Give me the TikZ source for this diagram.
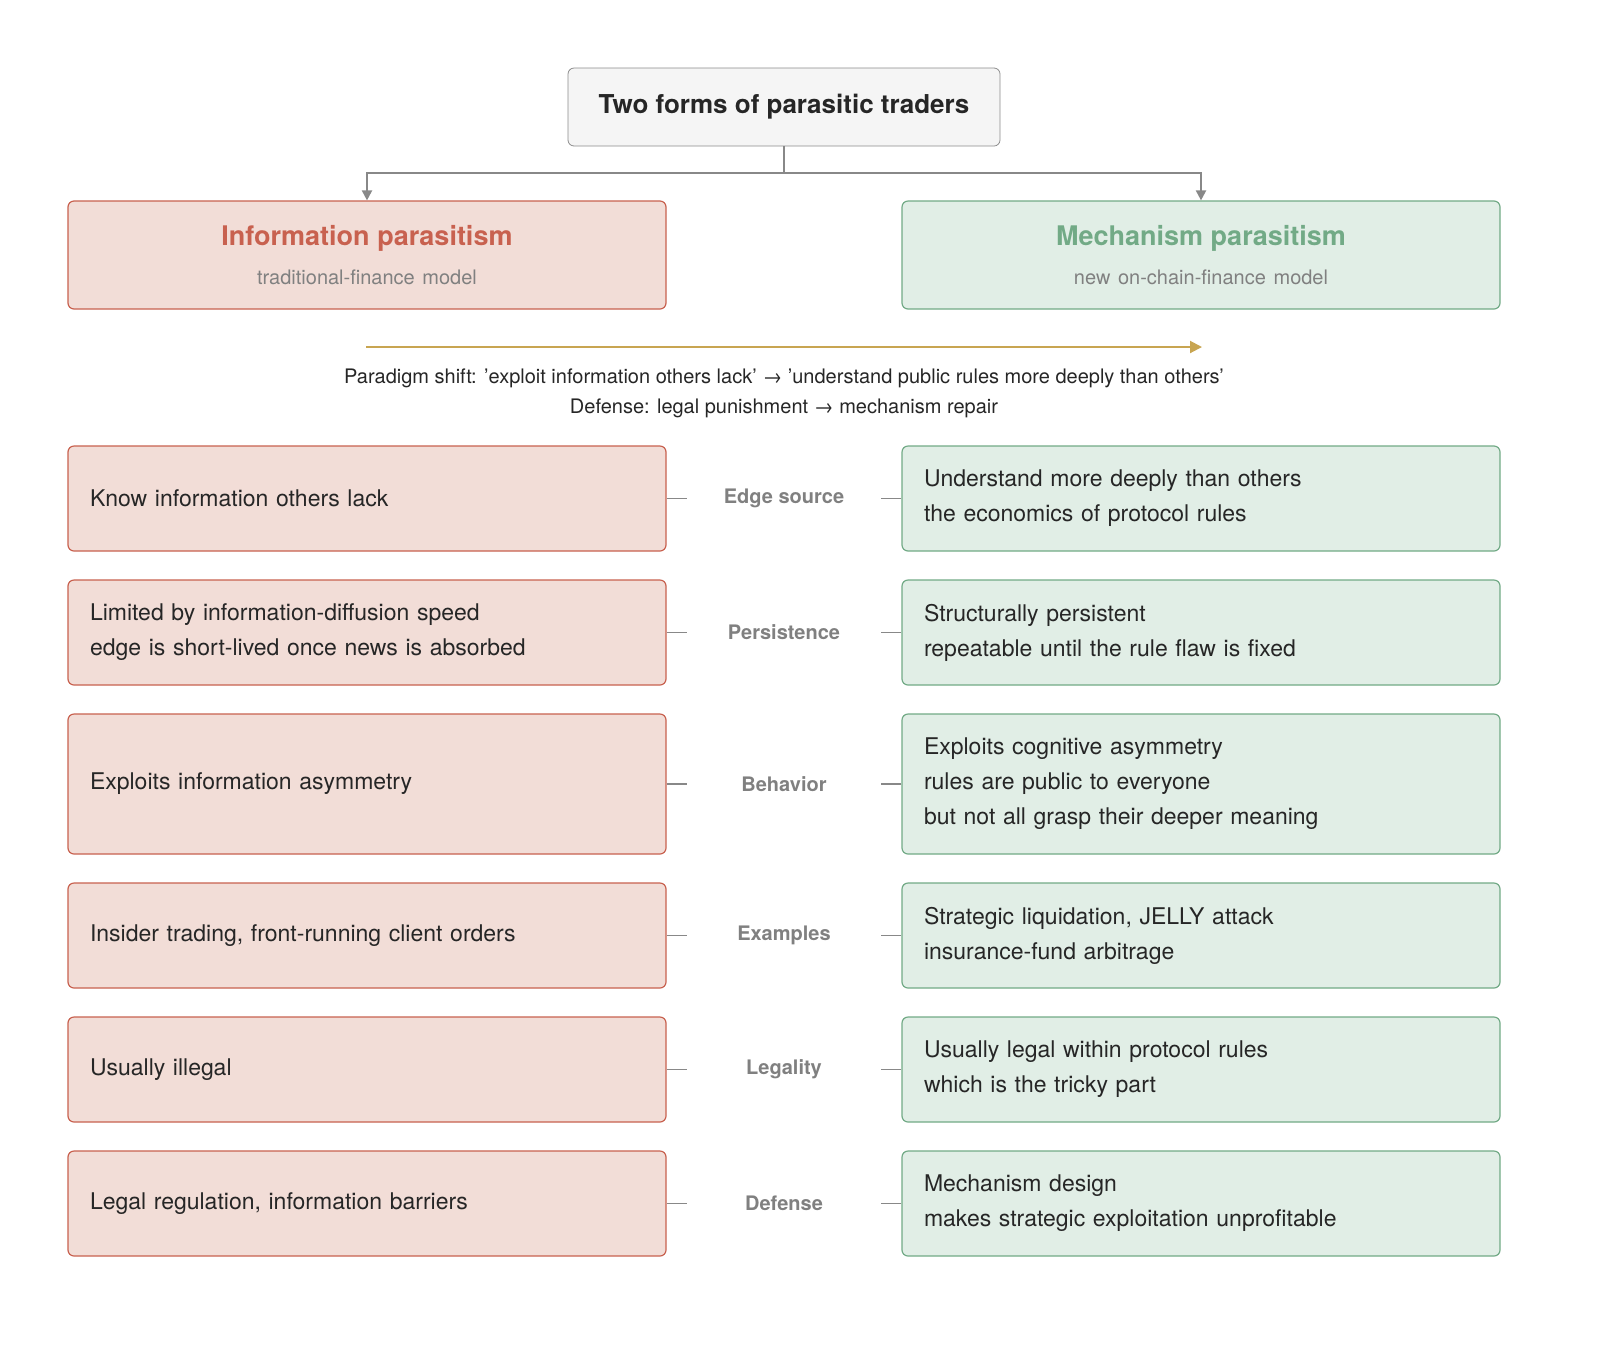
\documentclass[tikz,border=0pt]{standalone}
\usepackage{fontspec}
\setmainfont{TeX Gyre Heros}
\usepackage{tikz}
\usetikzlibrary{arrows.meta}
\definecolor{infofill}{HTML}{F2DDD7}
\definecolor{infoline}{HTML}{C8614F}
\definecolor{mechfill}{HTML}{E1EEE6}
\definecolor{mechline}{HTML}{72AA86}
\definecolor{shiftgold}{HTML}{C8A551}
\definecolor{conngray}{HTML}{888888}
\definecolor{labgray}{HTML}{808080}
\tikzset{
  infobox/.style={draw=infoline, fill=infofill, rounded corners=3pt, line width=0.6pt,
    minimum width=299pt, text width=277pt, align=left, inner xsep=11pt,
    font=\fontsize{11.5}{17.5}\selectfont, text=black!85},
  mechbox/.style={infobox, draw=mechline, fill=mechfill},
  rowlabel/.style={font=\bfseries\fontsize{10}{12}\selectfont, text=labgray},
  stub/.style={draw=conngray, line width=0.6pt}
}
\begin{document}
\begin{tikzpicture}[x=0.5pt, y=-0.5pt]
\useasboundingbox (0,0) rectangle (1600,1351);
% title
\node [draw=black!45, fill=black!4, rounded corners=3pt, minimum width=216pt, minimum height=39pt,
  font=\bfseries\fontsize{13}{15}\selectfont, text=black!85] (title) at (784,107) {Two forms of parasitic traders};
\node [infobox, minimum height=54pt, align=center] (info) at (367,255)
  {{\bfseries\fontsize{13.5}{16}\selectfont\color{infoline}Information parasitism}\\[2pt]
   {\fontsize{10}{12}\selectfont\color{labgray}traditional-finance model}};
\node [mechbox, minimum height=54pt, align=center] (mech) at (1201,255)
  {{\bfseries\fontsize{13.5}{16}\selectfont\color{mechline}Mechanism parasitism}\\[2pt]
   {\fontsize{10}{12}\selectfont\color{labgray}new on-chain-finance model}};
\coordinate (split) at (784,173);
\draw [draw=conngray, line width=1pt] (title.south) -- (split);
\draw [draw=conngray, line width=1pt, -{Triangle[length=5pt,width=5pt]}] (split) -| (info.north);
\draw [draw=conngray, line width=1pt, -{Triangle[length=5pt,width=5pt]}] (split) -| (mech.north);
% paradigm shift
\coordinate (shiftA) at (366,347);
\coordinate (shiftB) at (1202,347);
\draw [draw=shiftgold, line width=1pt, -{Triangle[length=6pt,width=6pt]}] (shiftA) -- (shiftB);
\node [font=\fontsize{10}{15}\selectfont, align=center, text=black!85] (shifttext) at (784,393)
  {Paradigm shift: 'exploit information others lack' \symbol{"2192} 'understand public rules more deeply than others'\\
   Defense: legal punishment \symbol{"2192} mechanism repair};
% rows
\node [infobox, minimum height=52.5pt] (l1) at (367,498.5) {Know information others lack};
\node [mechbox, minimum height=52.5pt] (r1) at (1201,498.5) {Understand more deeply than others\\the economics of protocol rules};
\node [rowlabel] (c1) at (784,498.5) {Edge source};
\node [infobox, minimum height=52.5pt] (l2) at (367,632.5) {Limited by information-diffusion speed\\edge is short-lived once news is absorbed};
\node [mechbox, minimum height=52.5pt] (r2) at (1201,632.5) {Structurally persistent\\repeatable until the rule flaw is fixed};
\node [rowlabel] (c2) at (784,632.5) {Persistence};
\node [infobox, minimum height=70pt] (l3) at (367,784) {Exploits information asymmetry};
\node [mechbox, minimum height=70pt] (r3) at (1201,784) {Exploits cognitive asymmetry\\rules are public to everyone\\but not all grasp their deeper meaning};
\node [rowlabel] (c3) at (784,784) {Behavior};
\node [infobox, minimum height=52.5pt] (l4) at (367,935.5) {Insider trading, front-running client orders};
\node [mechbox, minimum height=52.5pt] (r4) at (1201,935.5) {Strategic liquidation, JELLY attack\\insurance-fund arbitrage};
\node [rowlabel] (c4) at (784,935.5) {Examples};
\node [infobox, minimum height=52.5pt] (l5) at (367,1069.5) {Usually illegal};
\node [mechbox, minimum height=52.5pt] (r5) at (1201,1069.5) {Usually legal within protocol rules\\which is the tricky part};
\node [rowlabel] (c5) at (784,1069.5) {Legality};
\node [infobox, minimum height=52.5pt] (l6) at (367,1203.5) {Legal regulation, information barriers};
\node [mechbox, minimum height=52.5pt] (r6) at (1201,1203.5) {Mechanism design\\makes strategic exploitation unprofitable};
\node [rowlabel] (c6) at (784,1203.5) {Defense};
\foreach \i in {1,...,6} {
  \draw [stub] (l\i.east) -- ++(20,0);
  \draw [stub] (r\i.west) -- ++(-20,0);
}
\end{tikzpicture}
\end{document}
